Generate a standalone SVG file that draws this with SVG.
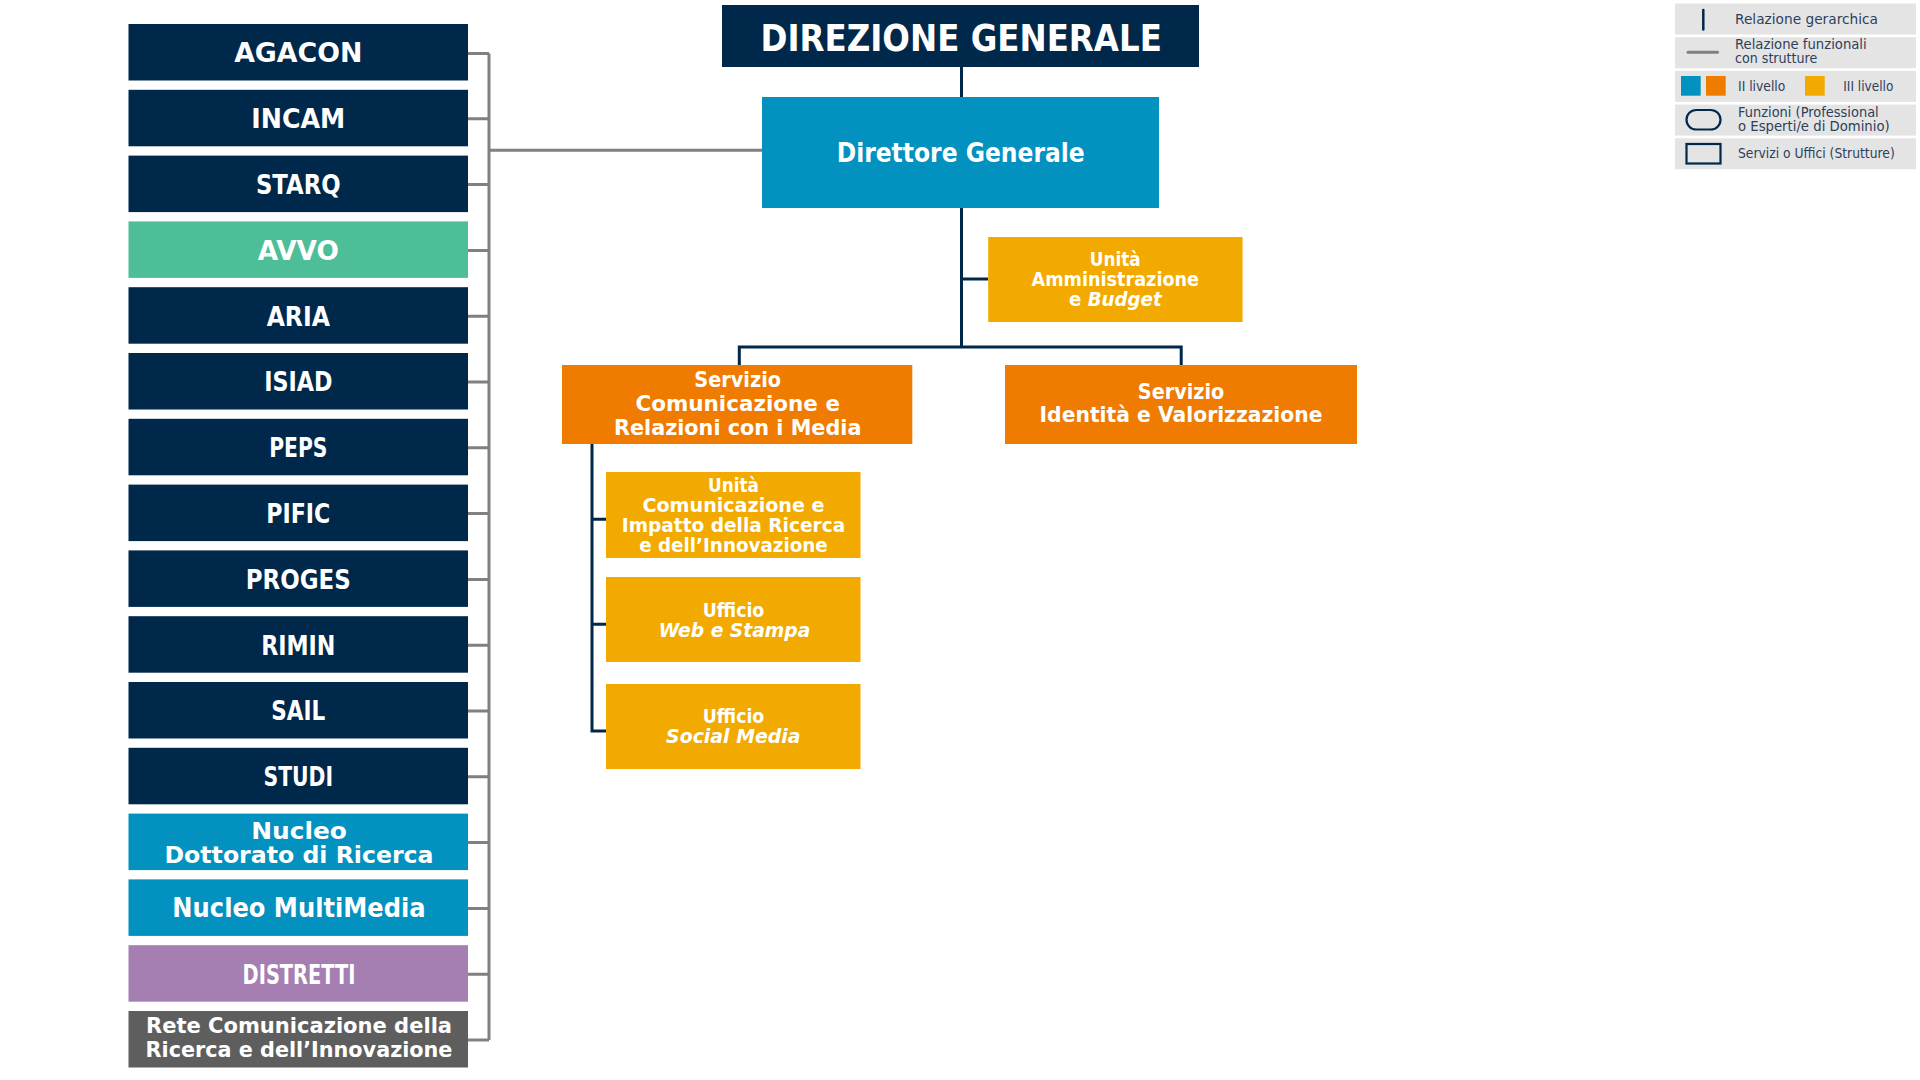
<svg xmlns="http://www.w3.org/2000/svg" width="1920" height="1080" viewBox="0 0 1920 1080">
<style>
.t{font-family:"DejaVu Sans",sans-serif;font-weight:bold;fill:#ffffff;text-anchor:middle}
.c26{font-size:26px}
.c23{font-size:23px}
.c21{font-size:21px}
.c22{font-size:22px}
.c195{font-size:19.5px}
.lg{font-family:"DejaVu Sans",sans-serif;font-size:13.5px;fill:#2E3F5C}
.navy{fill:#00284B}
.blue{fill:#0391BF}
.orange{fill:#EF7B00}
.amber{fill:#F2AA00}
.hier{fill:none;stroke:#00284B;stroke-width:3}
.func{fill:none;stroke:#808080;stroke-width:3}
.lgbg{fill:#E4E4E4}
</style>
<rect width="1920" height="1080" fill="#ffffff"/>

<g id="connectors">
  <path class="func" d="M489 53.5 V1040 M468 53.5 H489 M468 118.8 H489 M468 184.6 H489 M468 250.4 H489 M468 316.2 H489 M468 382 H489 M468 447.8 H489 M468 513.6 H489 M468 579.4 H489 M468 645.2 H489 M468 711 H489 M468 776.8 H489 M468 842.6 H489 M468 908.4 H489 M468 974.2 H489 M468 1040 H489 M489 150.3 H762"/>
  <path class="hier" d="M961.5 67 V97 M961.5 208 V347 M961.5 279 H988.2 M739.3 365 V347 H1181.2 V365 M592 444 V731 H606 M592 519.3 H606 M592 624.3 H606"/>
</g>

<g id="n-direzione"><rect class="navy" x="722" y="5" width="477" height="62"/><text class="t" x="961.2" y="50.7" font-size="37.5" textLength="401.4" lengthAdjust="spacingAndGlyphs">DIREZIONE GENERALE</text></g>
<g id="n-dg"><rect class="blue" x="762" y="97" width="397" height="111"/><text class="t c26" x="960.7" y="162.3" textLength="248" lengthAdjust="spacingAndGlyphs">Direttore Generale</text></g>
<g id="n-uab"><rect class="amber" x="988.2" y="237" width="254.4" height="85"/>
  <text class="t c195" x="1115.3" y="265.7" textLength="50.9" lengthAdjust="spacingAndGlyphs">Unità</text>
  <text class="t c195" x="1115.3" y="286" textLength="167.6" lengthAdjust="spacingAndGlyphs">Amministrazione</text>
  <text class="t c195" x="1115.3" y="305.7" textLength="92.6" lengthAdjust="spacingAndGlyphs">e <tspan font-style="italic">Budget</tspan></text></g>
<g id="n-scrm"><rect class="orange" x="562" y="365" width="350.3" height="79"/>
  <text class="t c22" x="737.7" y="386.7" textLength="86.8" lengthAdjust="spacingAndGlyphs">Servizio</text>
  <text class="t c22" x="737.7" y="411" textLength="204.6" lengthAdjust="spacingAndGlyphs">Comunicazione e</text>
  <text class="t c22" x="737.7" y="435" textLength="247.5" lengthAdjust="spacingAndGlyphs">Relazioni con i Media</text></g>
<g id="n-siv"><rect class="orange" x="1005" y="365" width="352" height="79"/>
  <text class="t c22" x="1181" y="399" textLength="86.3" lengthAdjust="spacingAndGlyphs">Servizio</text>
  <text class="t c22" x="1181" y="422.3" textLength="282.9" lengthAdjust="spacingAndGlyphs">Identità e Valorizzazione</text></g>
<g id="n-ucir"><rect class="amber" x="606" y="472" width="254.5" height="86"/>
  <text class="t c195" x="733.5" y="491.7" textLength="50.9" lengthAdjust="spacingAndGlyphs">Unità</text>
  <text class="t c195" x="733.5" y="511.7" textLength="182.1" lengthAdjust="spacingAndGlyphs">Comunicazione e</text>
  <text class="t c195" x="733.5" y="531.7" textLength="223.4" lengthAdjust="spacingAndGlyphs">Impatto della Ricerca</text>
  <text class="t c195" x="733.5" y="551.7" textLength="188.6" lengthAdjust="spacingAndGlyphs">e dell’Innovazione</text></g>
<g id="n-web"><rect class="amber" x="606" y="577" width="254.5" height="85"/>
  <text class="t c195" x="733.5" y="616.7" textLength="61.6" lengthAdjust="spacingAndGlyphs">Ufficio</text>
  <text class="t c195" x="734.5" y="636.7" font-style="italic" textLength="151.6" lengthAdjust="spacingAndGlyphs">Web e Stampa</text></g>
<g id="n-social"><rect class="amber" x="606" y="684" width="254.5" height="85"/>
  <text class="t c195" x="733.5" y="723.3" textLength="61.6" lengthAdjust="spacingAndGlyphs">Ufficio</text>
  <text class="t c195" x="733.3" y="743.3" font-style="italic" textLength="134.5" lengthAdjust="spacingAndGlyphs">Social Media</text></g>

<g id="n-agacon"><rect class="navy" x="128.5" y="24" width="339.5" height="56.5"/><text class="t c26" x="298.3" y="62.3" textLength="128.3" lengthAdjust="spacingAndGlyphs">AGACON</text></g>
<g id="n-incam"><rect class="navy" x="128.5" y="89.8" width="339.5" height="56.5"/><text class="t c26" x="298.3" y="128" textLength="94" lengthAdjust="spacingAndGlyphs">INCAM</text></g>
<g id="n-starq"><rect class="navy" x="128.5" y="155.6" width="339.5" height="56.5"/><text class="t c26" x="298.3" y="193.6" textLength="84.7" lengthAdjust="spacingAndGlyphs">STARQ</text></g>
<g id="n-avvo"><rect fill="#4DBE98" x="128.5" y="221.4" width="339.5" height="56.5"/><text class="t c26" x="298.3" y="259.7" textLength="81.3" lengthAdjust="spacingAndGlyphs">AVVO</text></g>
<g id="n-aria"><rect class="navy" x="128.5" y="287.2" width="339.5" height="56.5"/><text class="t c26" x="298.3" y="325.5" textLength="63.3" lengthAdjust="spacingAndGlyphs">ARIA</text></g>
<g id="n-isiad"><rect class="navy" x="128.5" y="353" width="339.5" height="56.5"/><text class="t c26" x="298.3" y="391.3" textLength="68.3" lengthAdjust="spacingAndGlyphs">ISIAD</text></g>
<g id="n-peps"><rect class="navy" x="128.5" y="418.8" width="339.5" height="56.5"/><text class="t c26" x="298.3" y="457.1" textLength="58.3" lengthAdjust="spacingAndGlyphs">PEPS</text></g>
<g id="n-pific"><rect class="navy" x="128.5" y="484.6" width="339.5" height="56.5"/><text class="t c26" x="298.3" y="522.9" textLength="64" lengthAdjust="spacingAndGlyphs">PIFIC</text></g>
<g id="n-proges"><rect class="navy" x="128.5" y="550.4" width="339.5" height="56.5"/><text class="t c26" x="298.3" y="588.7" textLength="105" lengthAdjust="spacingAndGlyphs">PROGES</text></g>
<g id="n-rimin"><rect class="navy" x="128.5" y="616.2" width="339.5" height="56.5"/><text class="t c26" x="298.3" y="654.5" textLength="74.3" lengthAdjust="spacingAndGlyphs">RIMIN</text></g>
<g id="n-sail"><rect class="navy" x="128.5" y="682" width="339.5" height="56.5"/><text class="t c26" x="298.3" y="720.3" textLength="54" lengthAdjust="spacingAndGlyphs">SAIL</text></g>
<g id="n-studi"><rect class="navy" x="128.5" y="747.8" width="339.5" height="56.5"/><text class="t c26" x="298.3" y="786.1" textLength="69.7" lengthAdjust="spacingAndGlyphs">STUDI</text></g>
<g id="n-nucleo-dott"><rect class="blue" x="128.5" y="813.6" width="339.5" height="56.5"/>
  <text class="t c23" x="299" y="839.3" textLength="95.7" lengthAdjust="spacingAndGlyphs">Nucleo</text>
  <text class="t c23" x="299" y="863.3" textLength="269" lengthAdjust="spacingAndGlyphs">Dottorato di Ricerca</text></g>
<g id="n-nucleo-mm"><rect class="blue" x="128.5" y="879.4" width="339.5" height="56.5"/><text class="t c26" x="299" y="917.3" textLength="253.3" lengthAdjust="spacingAndGlyphs">Nucleo MultiMedia</text></g>
<g id="n-distretti"><rect fill="#A57FB1" x="128.5" y="945.2" width="339.5" height="56.5"/><text class="t c26" x="299" y="984" textLength="112.9" lengthAdjust="spacingAndGlyphs">DISTRETTI</text></g>
<g id="n-rete"><rect fill="#5E5E5E" x="128.5" y="1011" width="339.5" height="56.5"/>
  <text class="t c21" x="299" y="1033.3" textLength="306.1" lengthAdjust="spacingAndGlyphs">Rete Comunicazione della</text>
  <text class="t c21" x="299" y="1057.3" textLength="306.9" lengthAdjust="spacingAndGlyphs">Ricerca e dell’Innovazione</text></g>

<g id="legend">
  <rect class="lgbg" x="1675" y="3.5" width="241" height="31"/>
  <rect class="lgbg" x="1675" y="37.2" width="241" height="31"/>
  <rect class="lgbg" x="1675" y="70.9" width="241" height="31"/>
  <rect class="lgbg" x="1675" y="104.6" width="241" height="31"/>
  <rect class="lgbg" x="1675" y="138.3" width="241" height="31"/>
  <line x1="1703.3" y1="10" x2="1703.3" y2="29.5" stroke="#00284B" stroke-width="2.5" stroke-linecap="round"/>
  <text class="lg" x="1735" y="24" textLength="143" lengthAdjust="spacingAndGlyphs">Relazione gerarchica</text>
  <line x1="1688" y1="52.3" x2="1717.5" y2="52.3" stroke="#808080" stroke-width="3" stroke-linecap="round"/>
  <text class="lg" x="1735" y="49.3" textLength="131.7" lengthAdjust="spacingAndGlyphs">Relazione funzionali</text>
  <text class="lg" x="1735" y="63.3" textLength="82.3" lengthAdjust="spacingAndGlyphs">con strutture</text>
  <rect class="blue" x="1681" y="76" width="19.7" height="19.7"/>
  <rect class="orange" x="1706" y="76" width="19.7" height="19.7"/>
  <text class="lg" x="1738" y="90.7" textLength="47.3" lengthAdjust="spacingAndGlyphs">II livello</text>
  <rect class="amber" x="1805" y="76" width="19.7" height="19.7"/>
  <text class="lg" x="1843.3" y="90.7" textLength="50" lengthAdjust="spacingAndGlyphs">III livello</text>
  <rect x="1686.5" y="110" width="34" height="19.5" rx="9.7" fill="none" stroke="#00284B" stroke-width="2.2"/>
  <text class="lg" x="1738" y="116.7" textLength="140.7" lengthAdjust="spacingAndGlyphs">Funzioni (Professional</text>
  <text class="lg" x="1738" y="130.7" textLength="151.7" lengthAdjust="spacingAndGlyphs">o Esperti/e di Dominio)</text>
  <rect x="1686.5" y="144" width="34" height="19.5" fill="none" stroke="#00284B" stroke-width="2.2"/>
  <text class="lg" x="1738" y="158.3" textLength="156.7" lengthAdjust="spacingAndGlyphs">Servizi o Uffici (Strutture)</text>
</g>
</svg>
